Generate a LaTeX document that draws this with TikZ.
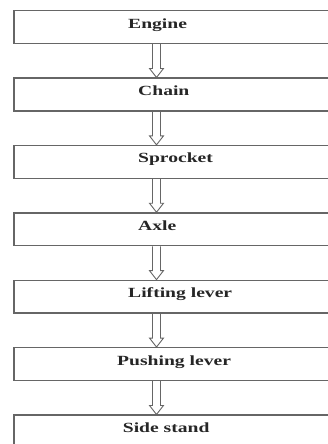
\documentclass[tikz,border=0pt]{standalone}
\usepackage{fontspec}
\setmainfont{Liberation Serif}
\usetikzlibrary{calc}
\tikzset{
  box/.style={draw=black!60, line width=1.3pt, minimum width=330pt, minimum height=32.8pt, inner sep=0pt},
  lbl/.style={inner sep=0pt, anchor=base west, text=black!85, font=\fontsize{14}{16}\selectfont\bfseries},
  arrowline/.style={draw=black!60, line width=0.9pt, line join=miter}
}
\newcommand\hollowarrow[2]{%
  \draw[arrowline] ($(#1.south)+(-26.5,0)$) -- ($(#2.north)+(-26.5,9)$) -- ($(#2.north)+(-29.5,9)$) -- ($(#2.north)+(-22.5,0)$) -- ($(#2.north)+(-15.5,9)$) -- ($(#2.north)+(-18.5,9)$) -- ($(#1.south)+(-18.5,0)$);}
\newcommand\wide[1]{\scalebox{1.4}[1]{#1}}
\begin{document}
\begin{tikzpicture}[x=1pt,y=1pt]
\useasboundingbox (0,0) rectangle (328,-444);
\fill[white] (0,0) rectangle (328,-444);
\clip (0,0) rectangle (328,-444);
\node[box] (b1) at (179,-27.1) {};
\node[box] (b2) at (179,-94.5) {};
\node[box] (b3) at (179,-161.9) {};
\node[box] (b4) at (179,-229.3) {};
\node[box] (b5) at (179,-296.7) {};
\node[box] (b6) at (179,-364.1) {};
\node[box] (b7) at (179,-431.5) {};
\node[lbl] (t1) at (128,-28.1) {\wide{Engine}};
\node[lbl] (t2) at (138,-95.5) {\wide{Chain}};
\node[lbl] (t3) at (138,-162.9) {\wide{Sprocket}};
\node[lbl] (t4) at (138,-230.3) {\wide{Axle}};
\node[lbl] (t5) at (128,-297.7) {\wide{Lifting lever}};
\node[lbl] (t6) at (117,-365.1) {\wide{Pushing lever}};
\node[lbl] (t7) at (122.7,-432.5) {\wide{Side stand}};
\hollowarrow{b1}{b2}
\hollowarrow{b2}{b3}
\hollowarrow{b3}{b4}
\hollowarrow{b4}{b5}
\hollowarrow{b5}{b6}
\hollowarrow{b6}{b7}
\end{tikzpicture}
\end{document}
